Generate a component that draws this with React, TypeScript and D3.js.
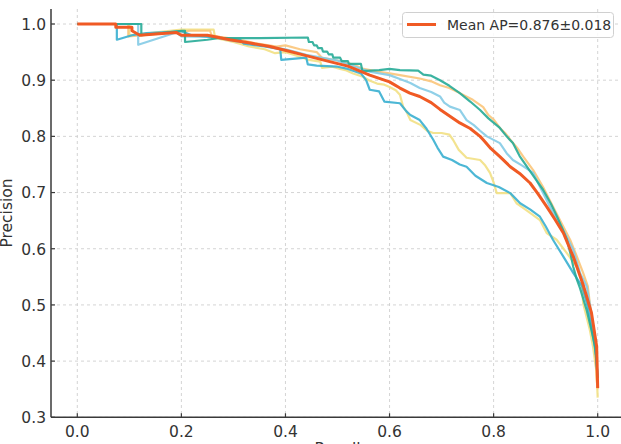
import React from "react";
import * as d3 from "d3";

type Pt = [number, number];

// recall, precision
const foldYellow: Pt[] = [
  [0, 1], [0.1, 1], [0.1, 0.98], [0.2, 0.99], [0.262, 0.99], [0.265, 0.975], [0.3, 0.968],
  [0.33, 0.96], [0.36, 0.955], [0.38, 0.948], [0.4, 0.95], [0.42, 0.944], [0.445, 0.936],
  [0.467, 0.933], [0.47, 0.922], [0.49, 0.924], [0.505, 0.92], [0.515, 0.918], [0.53, 0.912],
  [0.549, 0.906], [0.56, 0.9], [0.576, 0.894], [0.59, 0.892], [0.6, 0.888], [0.612, 0.882],
  [0.62, 0.874], [0.626, 0.853], [0.632, 0.845], [0.64, 0.829], [0.66, 0.82], [0.672, 0.81],
  [0.684, 0.806], [0.7, 0.806], [0.715, 0.803], [0.722, 0.794], [0.733, 0.776], [0.748, 0.762],
  [0.774, 0.758], [0.784, 0.748], [0.793, 0.735], [0.8, 0.718], [0.806, 0.699], [0.832, 0.699],
  [0.844, 0.681], [0.858, 0.672], [0.87, 0.664], [0.889, 0.651], [0.902, 0.628], [0.921, 0.616],
  [0.94, 0.593], [0.96, 0.568], [0.969, 0.544], [0.972, 0.503], [0.985, 0.455],
  [0.991, 0.426], [0.998, 0.379], [1.0, 0.335],
];

const foldOrange: Pt[] = [
  [0, 1], [0.098, 1], [0.098, 0.978], [0.16, 0.983], [0.217, 0.988], [0.255, 0.988],
  [0.258, 0.98], [0.274, 0.977], [0.313, 0.972], [0.34, 0.966], [0.383, 0.96], [0.4, 0.962],
  [0.428, 0.955], [0.46, 0.95], [0.47, 0.94], [0.5, 0.935], [0.53, 0.928], [0.55, 0.92],
  [0.58, 0.915], [0.6, 0.912], [0.62, 0.909], [0.658, 0.903], [0.68, 0.898], [0.697, 0.891],
  [0.715, 0.886], [0.735, 0.877], [0.76, 0.865], [0.78, 0.852], [0.79, 0.838], [0.8, 0.83],
  [0.812, 0.815], [0.822, 0.806], [0.832, 0.794], [0.845, 0.78], [0.857, 0.764], [0.876, 0.74],
  [0.895, 0.71], [0.914, 0.675], [0.934, 0.639], [0.947, 0.616], [0.96, 0.586],
  [0.972, 0.557], [0.981, 0.533], [0.987, 0.486], [0.995, 0.426], [0.998, 0.367], [1.0, 0.35],
];

const foldLightBlue: Pt[] = [
  [0, 1], [0.117, 1], [0.117, 0.963], [0.19, 0.985], [0.2, 0.978], [0.26, 0.977], [0.3, 0.97],
  [0.35, 0.963], [0.4, 0.955], [0.44, 0.945], [0.5, 0.935], [0.53, 0.925], [0.562, 0.915],
  [0.6, 0.909], [0.62, 0.902], [0.64, 0.895], [0.658, 0.886], [0.68, 0.879], [0.697, 0.871],
  [0.705, 0.86], [0.716, 0.853], [0.735, 0.847], [0.748, 0.829], [0.762, 0.82], [0.774, 0.81],
  [0.787, 0.8], [0.812, 0.788], [0.825, 0.77], [0.837, 0.758], [0.855, 0.748], [0.876, 0.735],
  [0.885, 0.718], [0.895, 0.699], [0.914, 0.664], [0.934, 0.633], [0.953, 0.598], [0.966, 0.557],
  [0.979, 0.533], [0.985, 0.5], [0.992, 0.45], [0.998, 0.4], [1.0, 0.36],
];

const foldBlue: Pt[] = [
  [0, 1], [0.076, 1], [0.076, 0.972], [0.105, 0.98], [0.133, 0.984], [0.2, 0.987], [0.22, 0.98],
  [0.28, 0.975], [0.313, 0.972], [0.32, 0.965], [0.36, 0.96], [0.39, 0.955], [0.392, 0.936],
  [0.44, 0.94], [0.443, 0.928], [0.46, 0.926], [0.5, 0.924], [0.52, 0.92], [0.545, 0.912],
  [0.555, 0.9], [0.562, 0.883], [0.58, 0.88], [0.59, 0.862], [0.62, 0.859], [0.632, 0.845],
  [0.64, 0.838], [0.658, 0.829], [0.67, 0.815], [0.684, 0.794], [0.692, 0.78], [0.703, 0.764],
  [0.72, 0.758], [0.735, 0.75], [0.748, 0.746], [0.765, 0.73], [0.787, 0.717], [0.81, 0.71],
  [0.832, 0.699], [0.851, 0.681], [0.87, 0.67], [0.889, 0.657], [0.9, 0.64], [0.914, 0.616],
  [0.934, 0.586], [0.953, 0.557], [0.97, 0.533], [0.98, 0.5], [0.99, 0.45], [0.997, 0.41],
  [1.0, 0.37],
];

const foldTeal: Pt[] = [
  [0, 1], [0.123, 1], [0.123, 0.98], [0.2, 0.988], [0.207, 0.988], [0.207, 0.968], [0.25, 0.972],
  [0.27, 0.975], [0.35, 0.975], [0.443, 0.976], [0.445, 0.968], [0.452, 0.968], [0.455, 0.962],
  [0.46, 0.962], [0.463, 0.957], [0.47, 0.957], [0.472, 0.951], [0.48, 0.951], [0.483, 0.946],
  [0.49, 0.946], [0.492, 0.94], [0.505, 0.94], [0.508, 0.934], [0.52, 0.934], [0.522, 0.929],
  [0.545, 0.929], [0.548, 0.916], [0.58, 0.918], [0.6, 0.92], [0.62, 0.918], [0.655, 0.917],
  [0.665, 0.91], [0.68, 0.908], [0.697, 0.9], [0.715, 0.89], [0.735, 0.877], [0.755, 0.862],
  [0.774, 0.847], [0.79, 0.832], [0.812, 0.815], [0.825, 0.8], [0.837, 0.788], [0.85, 0.765],
  [0.864, 0.746], [0.88, 0.725], [0.895, 0.705], [0.91, 0.68], [0.922, 0.657], [0.932, 0.636],
  [0.941, 0.616], [0.948, 0.59], [0.953, 0.568], [0.96, 0.545], [0.966, 0.53], [0.979, 0.49],
  [0.988, 0.455], [0.995, 0.426], [1.0, 0.37],
];

const meanCurve: Pt[] = [
  [0, 1], [0.074, 1], [0.074, 0.994], [0.105, 0.994], [0.105, 0.988], [0.12, 0.98],
  [0.15, 0.982], [0.19, 0.985], [0.2, 0.98], [0.25, 0.98], [0.293, 0.972], [0.332, 0.966],
  [0.37, 0.96], [0.409, 0.951], [0.447, 0.942], [0.485, 0.933], [0.52, 0.925], [0.562, 0.909],
  [0.6, 0.897], [0.62, 0.886], [0.639, 0.877], [0.658, 0.871], [0.68, 0.86], [0.697, 0.848],
  [0.735, 0.824], [0.755, 0.814], [0.774, 0.8], [0.78, 0.794], [0.795, 0.778], [0.812, 0.764],
  [0.832, 0.746], [0.85, 0.734], [0.87, 0.717], [0.885, 0.698], [0.902, 0.675], [0.918, 0.652],
  [0.934, 0.628], [0.953, 0.586], [0.972, 0.536], [0.988, 0.486], [0.998, 0.426], [1.0, 0.352],
];

const folds = [
  { data: foldYellow, color: "#f2e084" },
  { data: foldOrange, color: "#fbc57a" },
  { data: foldLightBlue, color: "#84cbe6" },
  { data: foldBlue, color: "#38afd0" },
  { data: foldTeal, color: "#26ab97" },
];

const xTicks = [0, 0.2, 0.4, 0.6, 0.8, 1.0];
const yTicks = [0.3, 0.4, 0.5, 0.6, 0.7, 0.8, 0.9, 1.0];
const legendLabel = "Mean AP=0.876±0.018";
const xLabel = "Recall";
const yLabel = "Precision";

export default function App() {
  const W = 621, H = 444;
  const left = 51, right = 624, top = 9, bottom = 417.3;
  const x = d3.scaleLinear().domain([0, 1]).range([77.3, 597.7]);
  const y = d3.scaleLinear().domain([0.3, 1.0]).range([417.3, 24]);
  const line = d3.line<Pt>().x((d) => x(d[0])).y((d) => y(d[1]));
  const font = "DejaVu Sans, sans-serif";
  const txt = "#333333";
  const spine = "#3a3a3a";
  const tickFs = 15.5;

  return (
    <svg width={W} height={H} style={{ position: "absolute", left: 0, top: 0 }} fontFamily={font}>
      <rect x={0} y={0} width={W} height={H} fill="#ffffff" />
      {xTicks.map((t) => (
        <line key={"gx" + t} x1={x(t)} x2={x(t)} y1={top} y2={bottom} stroke="#cfcfcf" strokeWidth={0.9} strokeDasharray="3,3" />
      ))}
      {yTicks.map((t) => (
        <line key={"gy" + t} x1={left} x2={right} y1={y(t)} y2={y(t)} stroke="#cfcfcf" strokeWidth={0.9} strokeDasharray="3,3" />
      ))}
      {folds.map((f, i) => (
        <path key={i} d={line(f.data) || ""} fill="none" stroke={f.color} strokeWidth={2.2} strokeOpacity={0.9} strokeLinejoin="round" />
      ))}
      <path d={line(meanCurve) || ""} fill="none" stroke="#f05a24" strokeWidth={3} strokeLinejoin="round" />
      <line x1={left} x2={left} y1={top} y2={bottom} stroke={spine} strokeWidth={1.5} />
      <line x1={left} x2={right} y1={bottom} y2={bottom} stroke={spine} strokeWidth={1.5} />
      {xTicks.map((t) => (
        <g key={"tx" + t}>
          <line x1={x(t)} x2={x(t)} y1={bottom} y2={bottom - 4} stroke={spine} strokeWidth={1.2} />
          <text x={x(t)} y={436.5} textAnchor="middle" fontSize={tickFs} fill={txt}>{t.toFixed(1)}</text>
        </g>
      ))}
      {yTicks.map((t) => (
        <g key={"ty" + t}>
          <line x1={left} x2={left + 4} y1={y(t)} y2={y(t)} stroke={spine} strokeWidth={1.2} />
          <text x={46} y={y(t)} dy="0.38em" textAnchor="end" fontSize={tickFs} fill={txt}>{t.toFixed(1)}</text>
        </g>
      ))}
      <text x={337.5} y={453.5} textAnchor="middle" fontSize={tickFs} fill={txt}>{xLabel}</text>
      <text transform={`translate(12,213) rotate(-90)`} textAnchor="middle" fontSize={tickFs} fill={txt}>{yLabel}</text>
      <g>
        <rect x={402.5} y={12.5} width={211} height={25} rx={3} fill="#ffffff" fillOpacity={0.85} stroke="#d0d0d0" strokeWidth={1} />
        <line x1={407} x2={436} y1={24.5} y2={24.5} stroke="#f05a24" strokeWidth={3} />
        <text x={447} y={29.5} fontSize={14} fill={txt}>{legendLabel}</text>
      </g>
    </svg>
  );
}
